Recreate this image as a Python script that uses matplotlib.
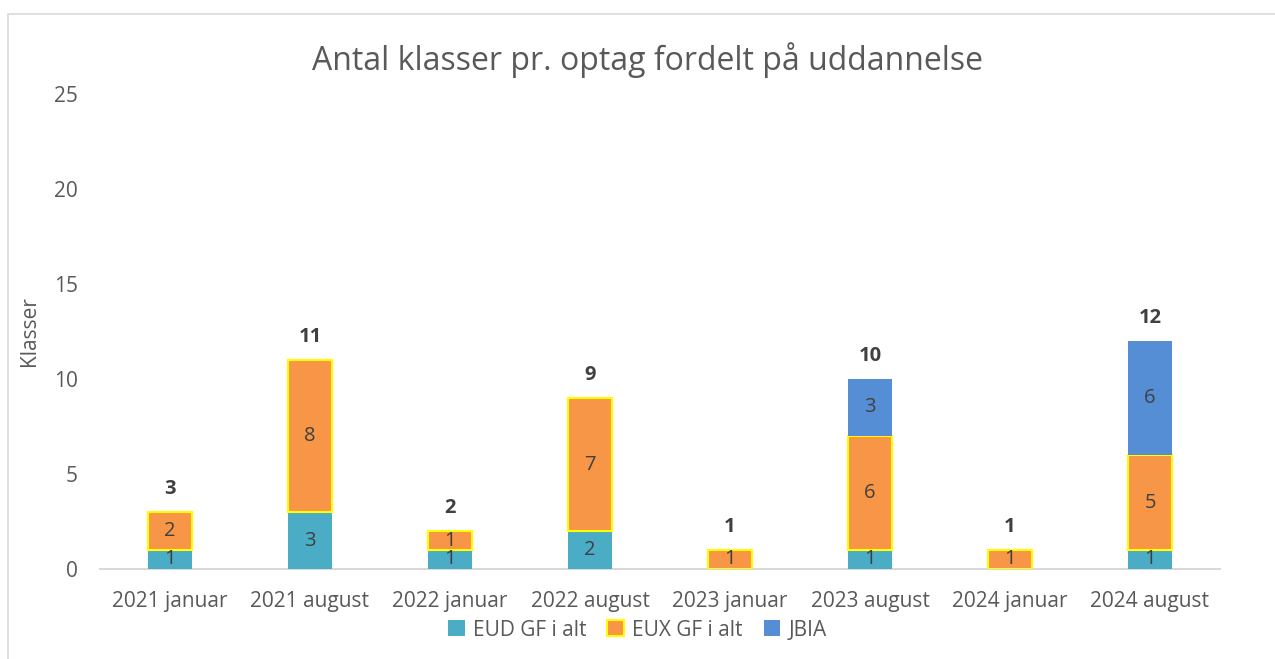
import matplotlib
matplotlib.use("Agg")
import matplotlib.pyplot as plt
from matplotlib.patches import Rectangle
import numpy as np

categories = ["2021 januar", "2021 august", "2022 januar", "2022 august",
              "2023 januar", "2023 august", "2024 januar", "2024 august"]
eud = [1, 3, 1, 2, 0, 1, 0, 1]
eux = [2, 8, 1, 7, 1, 6, 1, 5]
jbia = [0, 0, 0, 0, 0, 3, 0, 6]
series_names = ["EUD GF i alt", "EUX GF i alt", "JBIA"]

plt.rcParams['font.family'] = ['Open Sans', 'DejaVu Sans']
txt = "#595959"

fig = plt.figure(figsize=(12.75, 6.59), dpi=100)
ax = fig.add_axes([100/1275, 1-569/659, 1120/1275, (569-94)/659])

x = np.arange(len(categories))
w = 0.31
eud_a = np.array(eud); eux_a = np.array(eux); jb_a = np.array(jbia)
b1 = ax.bar(x, eud_a, w, color="#4BACC6", label=series_names[0], zorder=3)
b2 = ax.bar(x, eux_a, w, bottom=eud_a, color="#F79646", edgecolor="#FFFF00",
            linewidth=1.5, label=series_names[1], zorder=3)
b3 = ax.bar(x, jb_a, w, bottom=eud_a+eux_a, color="#558ED5", label=series_names[2], zorder=3)

for vals, bottoms in [(eud_a, np.zeros_like(eud_a)), (eux_a, eud_a), (jb_a, eud_a+eux_a)]:
    for xi, v, b in zip(x, vals, bottoms):
        if v > 0:
            ax.text(xi, b + v/2, str(v), ha="center", va="center", fontsize=14.5, color="#404040", zorder=4)

tot = eud_a + eux_a + jb_a
for xi, t in zip(x, tot):
    ax.text(xi, t + 0.7, str(t), ha="center", va="bottom", fontsize=14.5, fontweight="bold", color="#404040")

ax.set_xlim(-0.5, len(categories)-0.5)
ax.set_ylim(0, 25)
ax.set_yticks([0, 5, 10, 15, 20, 25])
ax.set_xticks(x)
ax.set_xticklabels(categories)
ax.tick_params(axis="both", length=0, labelsize=15, colors=txt)
ax.tick_params(axis="y", pad=16)
ax.tick_params(axis="x", pad=16)
for s in ["top", "right", "left"]:
    ax.spines[s].set_visible(False)
ax.spines["bottom"].set_color("#D9D9D9")
ax.spines["bottom"].set_linewidth(1.5)
ax.set_ylabel("Klasser", fontsize=15, color=txt)
ax.yaxis.set_label_coords(-0.054, 0.5)

fig.text(0.508, 1-60/659, "Antal klasser pr. optag fordelt på uddannelse",
         ha="center", va="center", fontsize=23, color=txt)

leg = fig.legend(handles=[b1, b2, b3], labels=series_names, loc="center",
                 bbox_to_anchor=(0.5, 1-630/659), ncol=3, frameon=False,
                 fontsize=15, handlelength=0.8, handleheight=0.8, handletextpad=0.4,
                 columnspacing=1.0)
for t in leg.get_texts():
    t.set_color(txt)

fig.patches.append(Rectangle((8/1275, -0.01), 1.02, 1-14/659+0.01, transform=fig.transFigure,
                             fill=False, edgecolor="#D9D9D9", linewidth=1.2))

fig.savefig("out.png", dpi=100)
